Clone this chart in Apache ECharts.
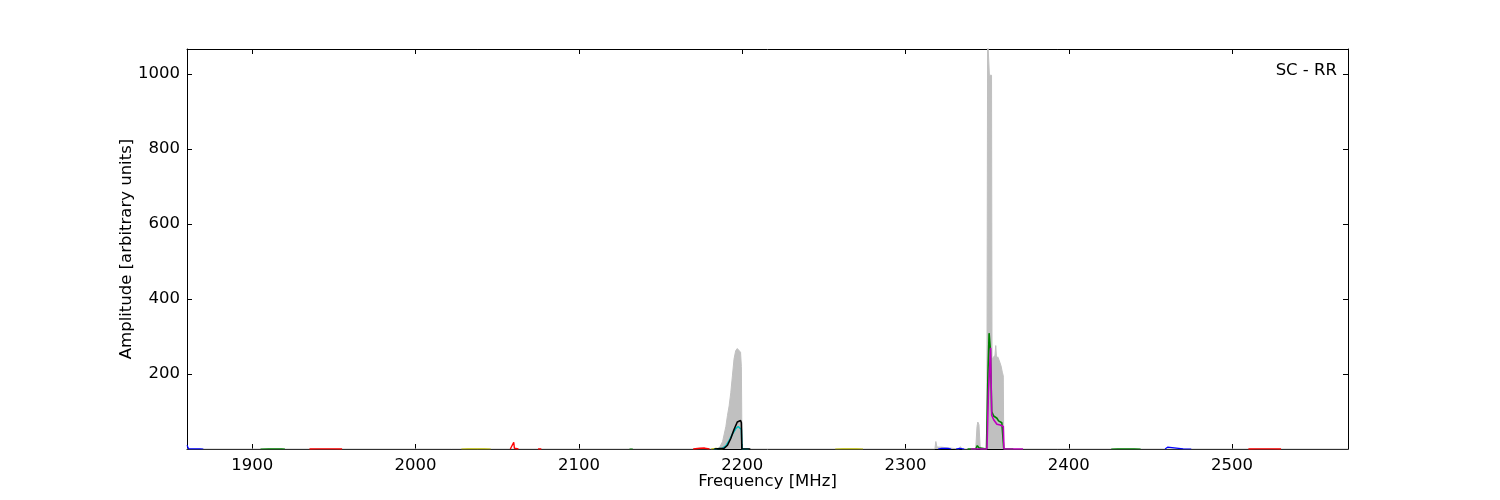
<!DOCTYPE html>
<html>
<head>
<meta charset="utf-8">
<script src="https://cdn.jsdelivr.net/npm/echarts@6/dist/echarts.min.js"></script>
<style>html,body{margin:0;padding:0;background:#fff}#c{width:1500px;height:500px}</style>
</head>
<body>
<div id="c"></div>
<script>
// ---- data ----
const xTicks = [1900, 2000, 2100, 2200, 2300, 2400, 2500];
const yTicks = [200, 400, 600, 800, 1000];
const panelLabel = 'SC - RR';

// grey max-hold trace [MHz, amplitude]
const greyTrace = [[1860,0],[2184,0],[2186,3],[2188,20],[2190,60],[2191,90],[2192,115],[2193,150],[2194,195],[2195,240],[2196,262],[2197,268],[2198,266],[2199,258],[2199.5,220],[2199.9,0],
  [2318,0],[2318.6,20],[2319.3,5],[2322,5],[2326,3],[2327,0],[2333,0],[2333.5,6],[2335,0],
  [2343,0],[2343.8,60],[2344.3,72],[2345,65],[2345.8,0],[2349.8,0],[2350.3,1100],[2351.3,1100],[2351.4,997],[2352.7,997],[2353,240],[2354,235],[2354.8,250],[2355.3,276],[2355.8,240],[2356.5,246],[2357.5,235],[2358.5,222],[2359.3,205],[2359.9,195],[2360.2,0],[2571,0]];

// coloured traces (null amplitude = gap between sub-bands)
const blackTrace = [[2183,0],[2189,2],[2191,10],[2193,28],[2195,52],[2197,72],[2198,77],[2199,76],[2199.5,70],[2199.8,0],[2205,0]];
const cyanTrace = [[2183,0],[2188,2],[2190,8],[2192,22],[2194,40],[2196,54],[2197.5,60],[2198.5,59],[2199.5,52],[2199.9,0],[2204,0]];
const greenTrace = [[2338,0],[2343,0],[2344,9],[2345,3],[2346,0],[2349.6,0],[2350.5,200],[2351.2,309],[2352,265],[2352.8,100],[2353.5,95],[2354,88],[2355,92],[2356,82],[2357,75],[2358,72],[2359,70],[2359.8,68],[2360.2,0],[2366,0]];
const magentaTrace = [[2340,0],[2349.9,0],[2350.8,150],[2352.1,270],[2352.8,90],[2354,78],[2355,75],[2356,66],[2357,62],[2358,64],[2359,62],[2359.9,60],[2360.3,0],[2372,0]];
const redTrace = [[1935,0],[1940,0.4],[1950,0.4],[1955,0],[1956,null],[2058,0],[2060.1,18],[2060.5,2],[2063,0],[2064,null],[2075,0],[2076,5],[2077,0],[2078,null],[2170,0],[2174,2],[2177,2.5],[2180,0],[2181,null],[2510,0],[2515,0.4],[2525,0.4],[2530,0]];
const blueTrace = [[1860,10],[1861,0.5],[1868,0.4],[1870,0],[1871,null],[2320,0],[2322,1.5],[2326,1.5],[2328,0],[2329,null],[2331,0],[2333,1.5],[2336,0],[2337,null],[2459,0],[2460.5,5],[2461,0.5],[2470,0.4],[2475,0]];
const oliveTrace = [[2028,0],[2032,0.4],[2042,0.4],[2046,0],[2047,null],[2181,0],[2184,2],[2188,0],[2189,null],[2257,0],[2262,0.4],[2270,0.4],[2274,0]];
const greenBase = [[1905,0],[1910,0.4],[1918,0.4],[1920,0],[1921,null],[2131,0],[2132,4],[2133,0],[2134,null],[2426,0],[2430,0.4],[2440,0.4],[2444,0]];

const chart = echarts.init(document.getElementById('c'));
const font = 'DejaVu Sans';
const fs = 16.5;
function line(data, color, z, w) {
  return { type: 'line', data: data, symbol: 'none', connectNulls: false, lineStyle: { color: color, width: w || 1.6 }, itemStyle: { color: color }, z: z, animation: false, clip: true };
}
const plain = v => String(v);
chart.setOption({
  animation: false,
  grid: { left: 187, right: 152, top: 49, bottom: 51, show: false },
  xAxis: [{
    type: 'value', min: 1860, max: 2571, position: 'bottom',
    name: 'Frequency [MHz]', nameLocation: 'middle', nameGap: 24, nameMoveOverlap: false,
    nameTextStyle: { color: '#000', fontFamily: font, fontSize: fs },
    axisLine: { show: true, onZero: false, lineStyle: { color: '#000', width: 1 } },
    axisTick: { show: true, inside: true, length: 5, customValues: xTicks, lineStyle: { color: '#000' } },
    axisLabel: { show: true, customValues: xTicks, formatter: plain, color: '#000', fontFamily: font, fontSize: fs, margin: 8 },
    splitLine: { show: false }
  }, {
    type: 'value', min: 1860, max: 2571, position: 'top',
    axisLine: { show: true, onZero: false, lineStyle: { color: '#000', width: 1 } },
    axisTick: { show: true, inside: true, length: 5, customValues: xTicks, lineStyle: { color: '#000' } },
    axisLabel: { show: false }, splitLine: { show: false }
  }],
  yAxis: [{
    type: 'value', min: 0, max: 1067, position: 'left',
    name: 'Amplitude [arbitrary units]', nameLocation: 'middle', nameGap: 52, nameRotate: 90, nameMoveOverlap: false,
    nameTextStyle: { color: '#000', fontFamily: font, fontSize: fs },
    axisLine: { show: true, onZero: false, lineStyle: { color: '#000', width: 1 } },
    axisTick: { show: true, inside: true, length: 5, customValues: yTicks, lineStyle: { color: '#000' } },
    axisLabel: { show: true, customValues: yTicks, formatter: plain, color: '#000', fontFamily: font, fontSize: fs, margin: 7 },
    splitLine: { show: false }
  }, {
    type: 'value', min: 0, max: 1067, position: 'right',
    axisLine: { show: true, onZero: false, lineStyle: { color: '#000', width: 1 } },
    axisTick: { show: true, inside: true, length: 5, customValues: yTicks, lineStyle: { color: '#000' } },
    axisLabel: { show: false }, splitLine: { show: false }
  }],
  graphic: [{
    type: 'text', right: 163, top: 62,
    style: { text: panelLabel, fill: '#000', font: fs + 'px "DejaVu Sans"' }
  }],
  series: [
    { type: 'line', data: greyTrace, symbol: 'none', lineStyle: { color: '#c0c0c0', width: 1 }, areaStyle: { color: '#c0c0c0', opacity: 1 }, z: 1, animation: false },
    line(blueTrace, '#0000ff', 3, 1.2),
    line(greenBase, '#008000', 3, 1.2),
    line(redTrace, '#ff0000', 3, 1.4),
    line(oliveTrace, '#bfbf00', 3, 1.2),
    line(cyanTrace, '#00bfbf', 4),
    line(blackTrace, '#000000', 5),
    line(greenTrace, '#008000', 4),
    line(magentaTrace, '#bf00bf', 5)
  ]
});
</script>
</body>
</html>
